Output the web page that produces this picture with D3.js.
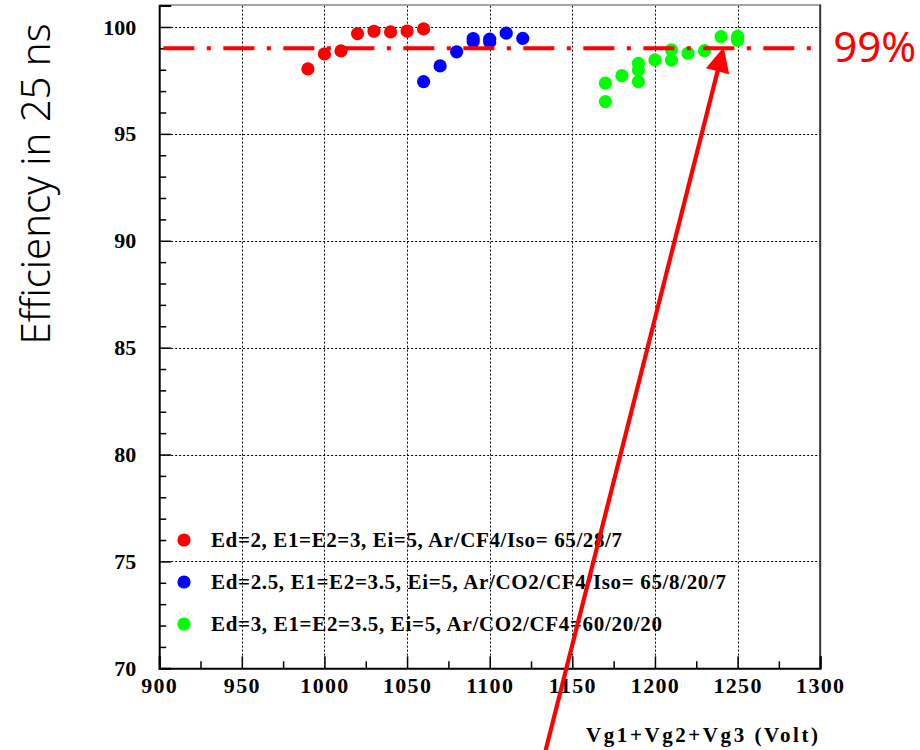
<!DOCTYPE html>
<html>
<head>
<meta charset="utf-8">
<script src="https://cdn.jsdelivr.net/npm/d3@7"></script>
<style>
  html, body { margin: 0; padding: 0; background: #fff; }
  svg { display: block; }
</style>
</head>
<body>
<svg id="chart" width="920" height="750"></svg>
<script>
// Efficiency within 25 ns versus summed GEM voltage, three gas/field settings
const xTicks = [900, 950, 1000, 1050, 1100, 1150, 1200, 1250, 1300];
const yTicks = [70, 75, 80, 85, 90, 95, 100];

const redX  = [990, 1000, 1010, 1020, 1030, 1040, 1050, 1060];
const redY  = [98.04, 98.74, 98.88, 99.69, 99.80, 99.77, 99.81, 99.91];

const blueX = [1060, 1070, 1080, 1090, 1090, 1100, 1100, 1110, 1120];
const blueY = [97.44, 98.18, 98.84, 99.32, 99.46, 99.30, 99.43, 99.71, 99.47];

const greenX = [1170, 1170, 1180, 1190, 1190, 1190, 1200, 1210, 1210, 1220, 1230, 1240, 1250, 1250];
const greenY = [97.37, 96.51, 97.72, 98.30, 97.99, 97.44, 98.46, 98.93, 98.45, 98.77, 98.89, 99.55, 99.56, 99.38];

const seriesNames = [
  "Ed=2, E1=E2=3, Ei=5, Ar/CF4/Iso= 65/28/7",
  "Ed=2.5, E1=E2=3.5, Ei=5, Ar/CO2/CF4/Iso= 65/8/20/7",
  "Ed=3, E1=E2=3.5, Ei=5, Ar/CO2/CF4=60/20/20"
];
const seriesColors = ["#ff0000", "#0000ff", "#00ff00"];
const legendWidths = [411, 515, 451];

const thresholdValue = 99;
const thresholdLabel = "99%";
const xTitle = "Vg1+Vg2+Vg3 (Volt)";
const yTitle = "Efficiency in 25 ns";
// annotation arrow, in data units: from below the axis up to the 99% line
const arrowFrom = [1132, 65.6];
const arrowTo = [1241.6, 99.06];

const svg = d3.select("#chart");
const L = 159.2, R = 820.2, T = 5.6, B = 668.3;

const x = d3.scaleLinear().domain([900, 1300]).range([L, R]);
const y = d3.scaleLinear().domain([70, 101]).range([B, T]);

const xMinor = d3.range(925, 1300, 50);
const yMinor = d3.range(71, 101, 1).filter(v => v % 5 !== 0);

// dotted grid
const grid = svg.append("g").attr("stroke", "#000").attr("stroke-width", 1)
  .attr("stroke-dasharray", "2,2");
grid.selectAll("line.gx").data(xTicks.filter(v => v > 900 && v < 1300)).join("line")
  .attr("x1", d => Math.round(x(d)) + 0.5).attr("x2", d => Math.round(x(d)) + 0.5)
  .attr("y1", T).attr("y2", B);
grid.selectAll("line.gy").data(yTicks.filter(v => v > 70)).join("line")
  .attr("y1", d => Math.round(y(d)) + 0.5).attr("y2", d => Math.round(y(d)) + 0.5)
  .attr("x1", L).attr("x2", R);

// frame: top and right edges
svg.append("line").attr("x1", L).attr("x2", R).attr("y1", T - 0.5).attr("y2", T - 0.5)
  .attr("stroke", "#888").attr("stroke-width", 1.5);
svg.append("line").attr("x1", R).attr("x2", R).attr("y1", T - 1).attr("y2", B)
  .attr("stroke", "#333").attr("stroke-width", 2);

const tickFont = "'Liberation Serif', 'Times New Roman', serif";

// bottom axis
const gx = svg.append("g").attr("transform", `translate(0,${B})`)
  .call(d3.axisBottom(x).tickValues(xTicks).tickSize(-12).tickPadding(9).tickFormat(d3.format("d")));
svg.append("g").attr("transform", `translate(0,${B})`)
  .call(d3.axisBottom(x).tickValues(xMinor).tickSize(-7).tickFormat(""))
  .call(g => g.select(".domain").remove());

// left axis
const gy = svg.append("g").attr("transform", `translate(${L},0)`)
  .call(d3.axisLeft(y).tickValues(yTicks).tickSize(-12).tickPadding(23).tickFormat(d3.format("d")));
svg.append("g").attr("transform", `translate(${L},0)`)
  .call(d3.axisLeft(y).tickValues(yMinor).tickSize(-7).tickFormat(""))
  .call(g => g.select(".domain").remove());

svg.selectAll(".tick line").attr("stroke", "#000").attr("stroke-width", 1.5);
[gx, gy].forEach(g => g.select(".domain").attr("stroke", "#000").attr("stroke-width", 2));
gx.selectAll("text").attr("font-family", tickFont).attr("font-weight", "bold")
  .attr("font-size", 22).attr("letter-spacing", 1.3).attr("fill", "#000");
gy.selectAll("text").attr("font-family", tickFont).attr("font-weight", "bold")
  .attr("font-size", 22).attr("fill", "#000");

// data points
const series = [
  { xs: redX, ys: redY },
  { xs: blueX, ys: blueY },
  { xs: greenX, ys: greenY }
];
series.forEach((s, i) => {
  svg.append("g").selectAll("circle").data(s.xs.map((v, k) => [v, s.ys[k]])).join("circle")
    .attr("cx", d => x(d[0])).attr("cy", d => y(d[1])).attr("r", 6.6)
    .attr("fill", seriesColors[i]);
});

// 99% threshold, dash-dot
svg.append("line")
  .attr("x1", x(902.5)).attr("x2", x(1294.8))
  .attr("y1", y(thresholdValue)).attr("y2", y(thresholdValue))
  .attr("stroke", "#ff0000").attr("stroke-width", 4)
  .attr("stroke-dasharray", "31,12.5,4,12.5");

svg.append("text").attr("x", R + 13).attr("y", y(thresholdValue) + 14)
  .attr("font-family", "'Noto Sans', sans-serif").attr("font-size", 42)
  .attr("fill", "#ff0000").text(thresholdLabel);

// legend
const leg = svg.append("g");
seriesNames.forEach((name, i) => {
  const cy = 540 + i * 42;
  leg.append("circle").attr("cx", 184).attr("cy", cy).attr("r", 6.6).attr("fill", seriesColors[i]);
  leg.append("text").attr("x", 211).attr("y", cy + 7)
    .attr("font-family", tickFont).attr("font-weight", "bold").attr("font-size", 21)
    .attr("textLength", legendWidths[i]).attr("lengthAdjust", "spacing")
    .attr("fill", "#000").text(name);
});

// axis titles
svg.append("text").attr("x", 586).attr("y", 742)
  .attr("font-family", tickFont).attr("font-weight", "bold").attr("font-size", 21)
  .attr("textLength", 232).attr("lengthAdjust", "spacing")
  .attr("fill", "#000").text(xTitle);

svg.append("text").attr("transform", "translate(50,184) rotate(-90)")
  .attr("text-anchor", "middle")
  .attr("font-family", "'Noto Sans', sans-serif").attr("font-size", 40).attr("font-weight", 300)
  .attr("fill", "#000").text(yTitle);

// arrow pointing at the 99% crossing
const p0 = [x(arrowFrom[0]), y(arrowFrom[1])];
const p1 = [x(arrowTo[0]), y(arrowTo[1])];
const dx = p1[0] - p0[0], dy = p1[1] - p0[1];
const len = Math.hypot(dx, dy);
const ux = dx / len, uy = dy / len;
const headLen = 25, headHalf = 12;
const base = [p1[0] - ux * headLen, p1[1] - uy * headLen];
svg.append("line")
  .attr("x1", p0[0]).attr("y1", p0[1]).attr("x2", base[0] + ux * 2).attr("y2", base[1] + uy * 2)
  .attr("stroke", "#ff0000").attr("stroke-width", 4.2);
svg.append("path")
  .attr("d", d3.line()([
    p1,
    [base[0] - uy * headHalf, base[1] + ux * headHalf],
    [base[0] + uy * headHalf, base[1] - ux * headHalf]
  ]) + "Z")
  .attr("fill", "#ff0000");
</script>
</body>
</html>
